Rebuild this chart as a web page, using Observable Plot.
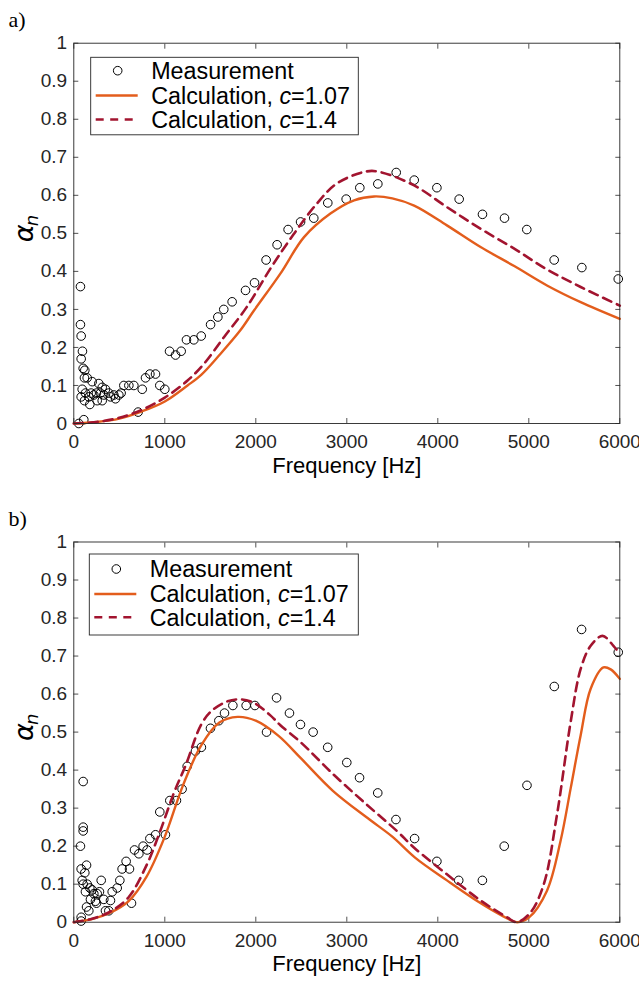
<!DOCTYPE html>
<html><head><meta charset="utf-8">
<script src="https://cdn.jsdelivr.net/npm/d3@7"></script>
<script src="https://cdn.jsdelivr.net/npm/@observablehq/plot@0.6"></script>
<style>body{margin:0;background:#fff;} #chart svg{display:block;}</style>
</head><body><div id="chart"></div>
<script>
// ---------- tick labels ----------
const xTicks = [0, 1000, 2000, 3000, 4000, 5000, 6000];
const yTicks = [0, 0.1, 0.2, 0.3, 0.4, 0.5, 0.6, 0.7, 0.8, 0.9, 1];
const panelLabels = ["a)", "b)"];
const xLabel = "Frequency [Hz]";
const legendLabels = ["Measurement", "Calculation, ", "Calculation, "];
const cValues = ["1.07", "1.4"];

// ---------- panel a: measurement ----------
const measA_f = [55,73,73,81,95,81,103,121,117,147,202,92,81,128,165,191,220,249,117,176,257,312,110,275,312,348,385,293,330,403,440,458,495,520,550,605,660,707,752,788,836,898,945,1000,1052,1118,1180,1238,1319,1400,1503,1583,1648,1740,1887,1986,2113,2234,2355,2492,2637,2791,2993,3143,3341,3543,3741,3990,4235,4491,4733,4978,5279,5583,5983];
const measA_v = [0.00,0.36,0.26,0.23,0.19,0.17,0.145,0.14,0.12,0.12,0.11,0.09,0.07,0.08,0.07,0.08,0.075,0.08,0.06,0.05,0.06,0.06,0.01,0.105,0.095,0.09,0.08,0.08,0.075,0.07,0.075,0.065,0.075,0.08,0.10,0.10,0.10,0.03,0.09,0.12,0.13,0.13,0.10,0.09,0.19,0.18,0.19,0.22,0.22,0.23,0.26,0.28,0.30,0.32,0.35,0.37,0.43,0.47,0.51,0.53,0.54,0.58,0.59,0.62,0.63,0.66,0.64,0.62,0.59,0.55,0.54,0.51,0.43,0.41,0.38];
// panel a: calculation c=1.07
const calcA1_f = [0,250,500,750,1000,1250,1400,1600,1830,1980,2270,2530,2820,3080,3300,3500,3740,4100,4470,4840,5200,5570,6000];
const calcA1_v = [0,0.004,0.013,0.032,0.058,0.100,0.128,0.180,0.245,0.297,0.394,0.490,0.552,0.587,0.597,0.592,0.573,0.521,0.464,0.414,0.363,0.319,0.275];
// panel a: calculation c=1.4
const calcA2_f = [0,250,500,750,1000,1250,1430,1650,1900,2170,2420,2670,2890,3220,3370,3740,4100,4470,4840,5200,5570,6000];
const calcA2_v = [0,0.004,0.015,0.036,0.068,0.113,0.157,0.227,0.306,0.411,0.499,0.578,0.631,0.663,0.661,0.626,0.569,0.512,0.46,0.405,0.359,0.31];

// ---------- panel b: measurement ----------
const measB_f = [81,81,73,103,103,103,140,81,121,92,301,103,147,176,128,202,220,257,282,183,238,249,330,140,165,348,385,403,422,477,506,531,575,612,634,667,715,762,806,836,898,945,1007,1055,1128,1190,1246,1337,1402,1502,1594,1656,1748,1894,1990,2118,2228,2370,2491,2630,2790,3000,3140,3340,3540,3745,3990,4230,4490,4730,4980,5280,5580,5983];
const measB_v = [0.003,0.013,0.20,0.37,0.25,0.24,0.15,0.14,0.13,0.11,0.11,0.10,0.10,0.09,0.08,0.085,0.075,0.075,0.08,0.06,0.055,0.05,0.06,0.04,0.03,0.03,0.03,0.057,0.08,0.09,0.11,0.14,0.16,0.14,0.05,0.19,0.18,0.20,0.19,0.22,0.23,0.29,0.23,0.32,0.32,0.35,0.41,0.45,0.46,0.51,0.53,0.55,0.57,0.57,0.57,0.50,0.59,0.55,0.52,0.50,0.46,0.42,0.38,0.34,0.27,0.22,0.16,0.11,0.11,0.20,0.36,0.62,0.77,0.71];
// panel b: calculation c=1.07
const calcB1_f = [0,200,400,600,800,1000,1200,1400,1600,1800,2000,2250,2500,2850,3250,3500,3750,4100,4450,4700,4870,5000,5200,5350,5460,5570,5680,5820,5900,6000];
const calcB1_v = [0,0.008,0.025,0.055,0.12,0.225,0.36,0.465,0.525,0.54,0.53,0.49,0.43,0.345,0.27,0.225,0.17,0.11,0.053,0.018,0.0,0.012,0.083,0.215,0.352,0.492,0.614,0.67,0.665,0.64];
// panel b: calculation c=1.4
const calcB2_f = [0,200,400,600,800,950,1100,1230,1400,1520,1690,1830,1980,2160,2270,2490,2860,3220,3550,3740,4100,4470,4760,4870,5020,5165,5310,5460,5570,5680,5810,5930,6000];
const calcB2_v = [0,0.009,0.028,0.065,0.15,0.24,0.34,0.413,0.52,0.557,0.581,0.586,0.577,0.544,0.518,0.474,0.387,0.309,0.24,0.196,0.126,0.057,0.013,0.0,0.026,0.1,0.283,0.527,0.666,0.727,0.753,0.727,0.705];

const ORANGE = "#E35D1C";
const DARKRED = "#A2142F";
const AXIS = "#262626";
const FONT = "'Liberation Sans', Arial, Helvetica, sans-serif";

const toRows = (fs, vs) => fs.map((f, i) => ({f, v: vs[i]}));

function panel({label, meas, solid, dashed, height, marginTop, marginBottom, legend}) {
  const plot = Plot.plot({
    width: 639, height, marginTop, marginBottom, marginLeft: 73.3, marginRight: 19.7,
    style: {fontFamily: FONT, fontSize: "19px", color: AXIS, background: "#fff", overflow: "visible"},
    x: {domain: [0, 6000]},
    y: {domain: [0, 1]},
    marks: [
      Plot.axisX({ticks: xTicks, anchor: "bottom", tickSize: -5, tickPadding: 16, tickFormat: d => String(d), label: null, strokeWidth: 0.8}),
      Plot.axisX({ticks: xTicks, anchor: "top", tickSize: -5, tickFormat: () => "", label: null, strokeWidth: 0.8}),
      Plot.axisY({ticks: yTicks, anchor: "left", tickSize: -5, tickPadding: 11.6, tickFormat: d => String(+d.toFixed(1)), label: null, strokeWidth: 0.8}),
      Plot.axisY({ticks: yTicks, anchor: "right", tickSize: -5, tickFormat: () => "", label: null, strokeWidth: 0.8}),
      Plot.dot(meas, {x: "f", y: "v", r: 4.3, stroke: "#000", strokeWidth: 1, fill: "none"}),
      Plot.line(solid, {x: "f", y: "v", stroke: ORANGE, strokeWidth: 2.4, curve: "catmull-rom"}),
      Plot.line(dashed, {x: "f", y: "v", stroke: DARKRED, strokeWidth: 2.6, strokeDasharray: "9,6", curve: "catmull-rom"}),
      Plot.frame({stroke: AXIS, strokeWidth: 0.9}),
      Plot.text([label], {frameAnchor: "top-left", dx: -65.3, dy: -23, textAnchor: "start", lineAnchor: "middle", fontFamily: "'Liberation Serif', 'DejaVu Serif', serif", fontSize: 22, fill: "#000"}),
      Plot.text([xLabel], {frameAnchor: "bottom", dy: 42, lineAnchor: "middle", fontSize: 22, fill: "#000"}),
      Plot.text(["α"], {frameAnchor: "left", dx: -49, dy: 9, rotate: -90, lineAnchor: "middle", fontSize: 27, fontStyle: "italic", fill: "#000", fontFamily: "'DejaVu Sans', sans-serif"}),
      Plot.text(["n"], {frameAnchor: "left", dx: -42, dy: -7, rotate: -90, lineAnchor: "middle", fontSize: 18, fontStyle: "italic", fill: "#000", fontFamily: "'DejaVu Sans', sans-serif"})
    ]
  });
  // legend box
  const svg = d3.select(plot.tagName.toLowerCase() === "svg" ? plot : plot.querySelector("svg"));
  const g = svg.append("g").attr("font-family", FONT).attr("font-size", 23.3).attr("text-anchor", "start").attr("fill", "#000");
  const {x, y, w, h, rows} = legend;
  g.append("rect").attr("x", x).attr("y", y).attr("width", w).attr("height", h)
    .attr("fill", "#fff").attr("stroke", AXIS).attr("stroke-width", 0.9);
  g.append("circle").attr("cx", x + 27).attr("cy", rows[0]).attr("r", 4.3)
    .attr("fill", "none").attr("stroke", "#000").attr("stroke-width", 1);
  g.append("line").attr("x1", x + 5).attr("x2", x + 47).attr("y1", rows[1]).attr("y2", rows[1])
    .attr("stroke", ORANGE).attr("stroke-width", 2.4);
  g.append("line").attr("x1", x + 5).attr("x2", x + 47).attr("y1", rows[2]).attr("y2", rows[2])
    .attr("stroke", DARKRED).attr("stroke-width", 2.6).attr("stroke-dasharray", "8,6.5");
  g.append("text").attr("x", x + 60.5).attr("y", rows[0]).attr("dy", "0.36em").text(legendLabels[0]);
  [1, 2].forEach(i => {
    const t = g.append("text").attr("x", x + 60.5).attr("y", rows[i]).attr("dy", "0.36em");
    t.append("tspan").text(legendLabels[i]);
    t.append("tspan").attr("font-style", "italic").text("c");
    t.append("tspan").text("=" + cValues[i - 1]);
  });
  return plot;
}

const chart = document.getElementById("chart");
chart.appendChild(panel({
  label: panelLabels[0],
  meas: toRows(measA_f, measA_v),
  solid: toRows(calcA1_f, calcA1_v),
  dashed: toRows(calcA2_f, calcA2_v),
  height: 493, marginTop: 42.7, marginBottom: 70,
  legend: {x: 90.7, y: 57.3, w: 267.6, h: 77.5, rows: [70.7, 95.5, 119.5]}
}));
chart.appendChild(panel({
  label: panelLabels[1],
  meas: toRows(measB_f, measB_v),
  solid: toRows(calcB1_f, calcB1_v),
  dashed: toRows(calcB2_f, calcB2_v),
  height: 492, marginTop: 48.5, marginBottom: 63.3,
  legend: {x: 89.3, y: 61, w: 269, h: 81, rows: [76, 101, 124.3]}
}));
</script>
</body></html>
